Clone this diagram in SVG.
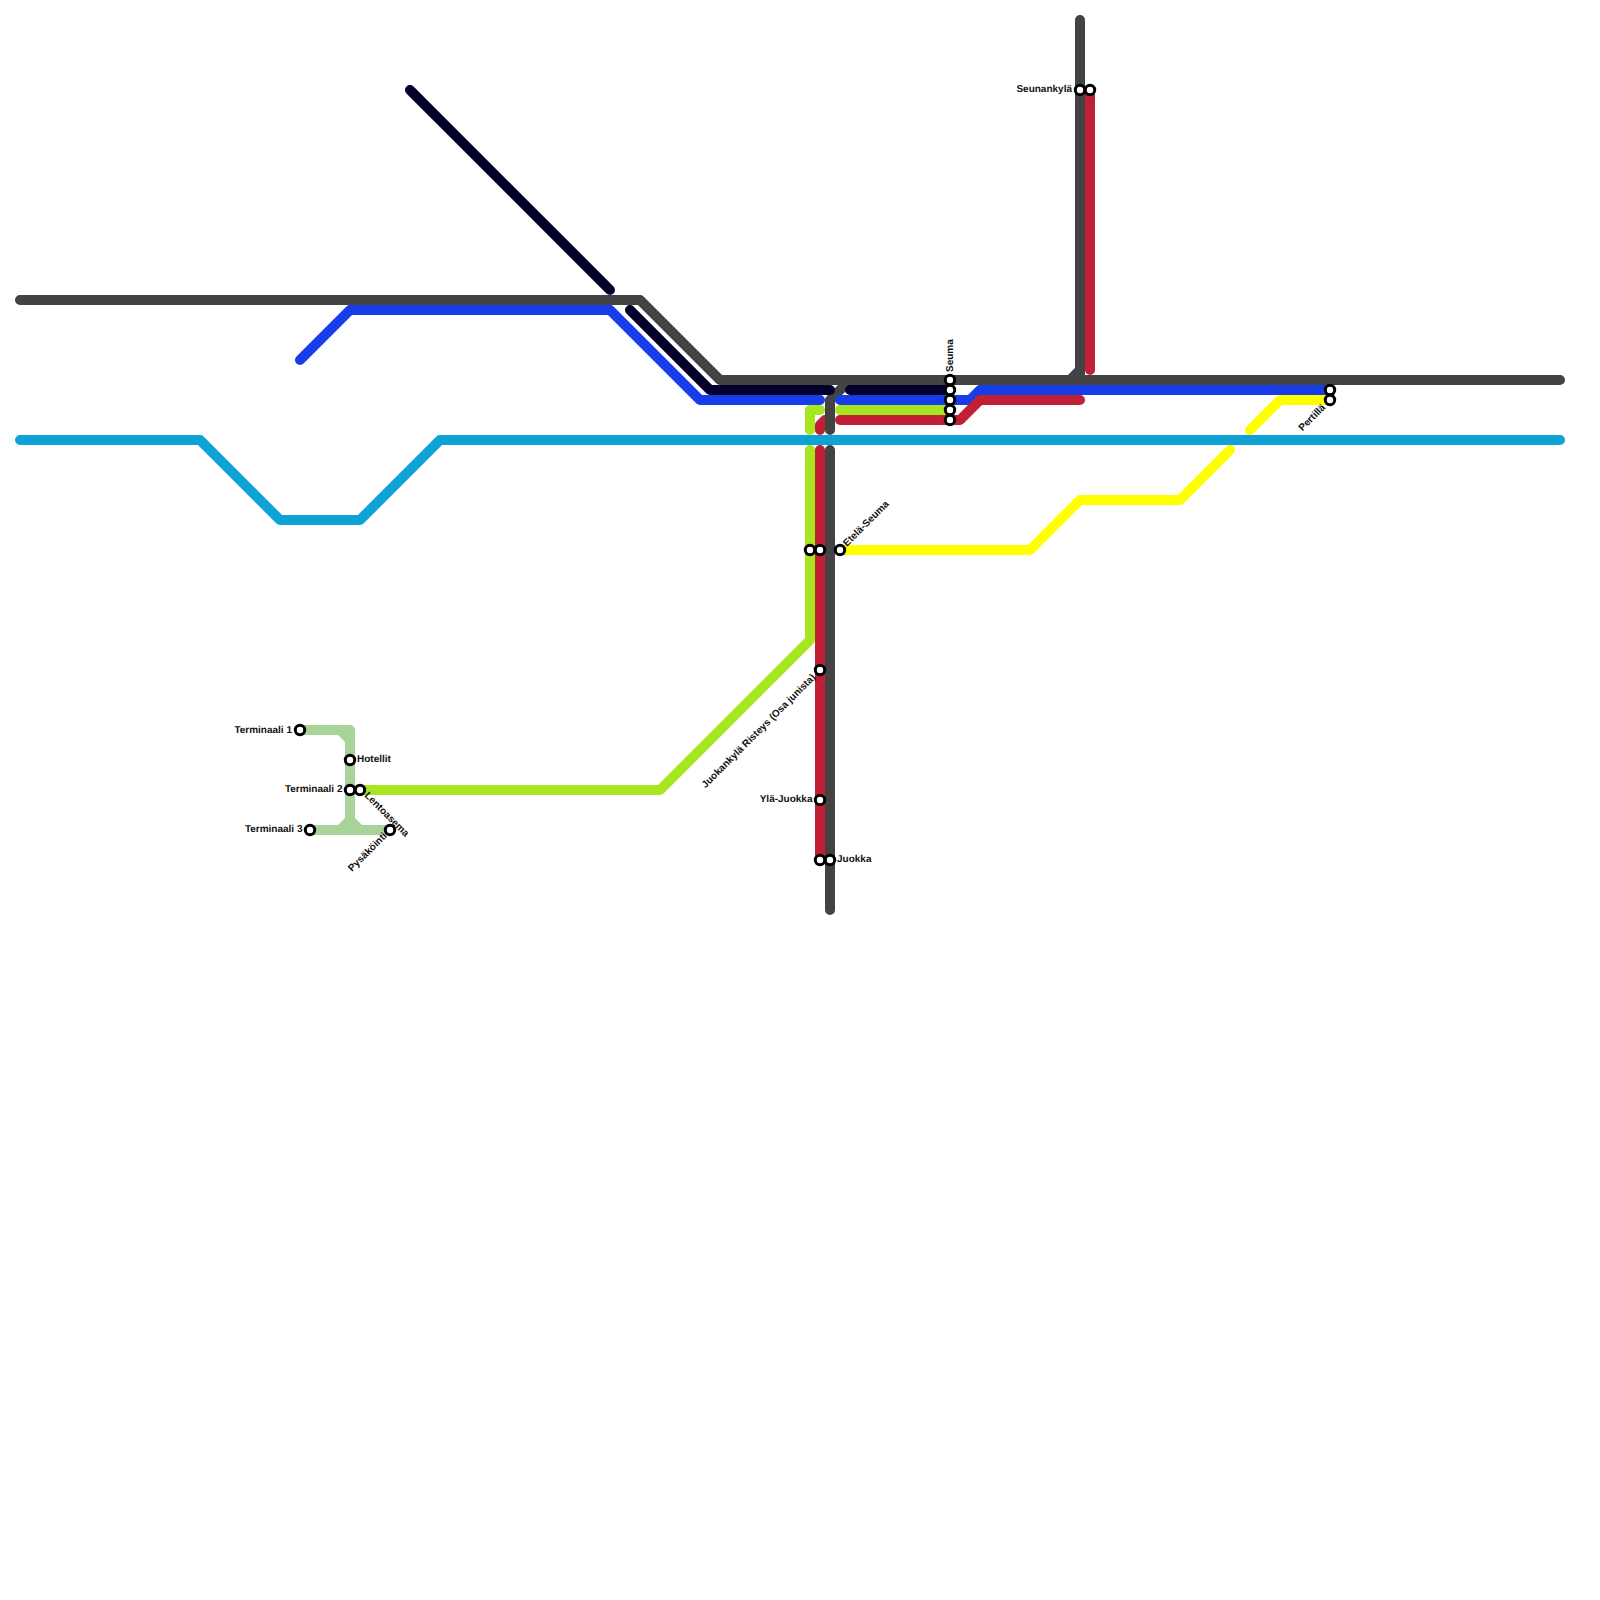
<svg xmlns="http://www.w3.org/2000/svg" width="1600" height="1600" viewBox="0 0 1600 1600">
<style>
.l{fill:none;stroke-width:10;stroke-linecap:round;stroke-linejoin:round}
.grey{stroke:#434343}.blue{stroke:#163de8}.navy{stroke:#03002b}.lime{stroke:#a8e622}.red{stroke:#c01f35}.cyan{stroke:#0ea2d6}.yel{stroke:#ffff00}.pale{stroke:#a8d49a}
.s{fill:#fff;stroke:#000;stroke-width:3;r:4.7px}
text{font-family:"Liberation Sans",Arial,sans-serif;font-size:10px;font-weight:bold;fill:#111;text-rendering:geometricPrecision}
.e{text-anchor:end}
</style>
<g id="connectors">
<path class="l red" d="M820 430V425L825 420"/>
<path class="l grey" d="M20 300H640L720 380H1560M830 430V400L850 380M830 450V910M1080 20V380M1070 380L1080 370"/>
<path class="l pale" d="M300 730H350V830M340 730L350 740M310 830H390M340 830L350 820L360 830"/>
<path class="l cyan" d="M20 440H200L280 520H360L440 440H1560"/>
<path class="l yel" d="M840 550H1030L1080 500H1180L1230 450M1250 430L1280 400H1330"/>
<path class="l lime" d="M820 410H810V430M810 450V640L660 790H360M840 410H950"/>
<path class="l blue" d="M300 360L350 310H610L700 400H820M840 400H970L980 390H1330"/>
<path class="l red" d="M820 450V860M840 420H960L980 400H1080M1090 90V370"/>
<path class="l navy" d="M410 90L610 290M630 310L710 390H830M850 390H950"/>
</g>
<g id="n1"><circle class="s" cx="300" cy="730" r="4.7"/><text class="e" x="292" y="732.5">Terminaali 1</text></g>
<g id="n2"><circle class="s" cx="350" cy="760" r="4.7"/><text x="357" y="762">Hotellit</text></g>
<g id="n3"><circle class="s" cx="350" cy="790" r="4.7"/><text class="e" x="342.500" y="792">Terminaali 2</text></g>
<g id="n4"><circle class="s" cx="360" cy="790" r="4.7"/><text transform="translate(364 796) rotate(45)">Lentoasema</text></g>
<g id="n5"><circle class="s" cx="310" cy="830" r="4.7"/><text class="e" x="302.500" y="832">Terminaali 3</text></g>
<g id="n6"><circle class="s" cx="390" cy="830" r="4.7"/><text class="e" transform="translate(387.500 836.500) rotate(-45)">Pysäköinti</text></g>
<g id="n7"><circle class="s" cx="810" cy="550" r="4.7"/></g>
<g id="n8"><circle class="s" cx="820" cy="550" r="4.7"/></g>
<g id="n9"><circle class="s" cx="840" cy="550" r="4.7"/><text transform="translate(847 547) rotate(-45)">Etelä-Seuma</text></g>
<g id="n10"><circle class="s" cx="820" cy="670" r="4.7"/><text class="e" transform="translate(816 678) rotate(-45)">Juokankylä Risteys (Osa junista)</text></g>
<g id="n11"><circle class="s" cx="820" cy="800" r="4.7"/><text class="e" x="812.500" y="802">Ylä-Juokka</text></g>
<g id="n12"><circle class="s" cx="820" cy="860" r="4.7"/></g>
<g id="n13"><circle class="s" cx="830" cy="860" r="4.7"/><text x="837" y="862">Juokka</text></g>
<g id="n14"><circle class="s" cx="950" cy="380" r="4.7"/><circle class="s" cx="950" cy="390" r="4.7"/><circle class="s" cx="950" cy="400" r="4.7"/><circle class="s" cx="950" cy="410" r="4.7"/><circle class="s" cx="950" cy="420" r="4.7"/><text transform="translate(953 372) rotate(-90)">Seuma</text></g>
<g id="n15"><circle class="s" cx="1080" cy="90" r="4.7"/><text class="e" x="1072" y="92">Seunankylä</text></g>
<g id="n16"><circle class="s" cx="1090" cy="90" r="4.7"/></g>
<g id="n17"><circle class="s" cx="1330" cy="390" r="4.7"/><circle class="s" cx="1330" cy="400" r="4.7"/><text class="e" transform="translate(1326 408) rotate(-45)">Pertillä</text></g>
</svg>
